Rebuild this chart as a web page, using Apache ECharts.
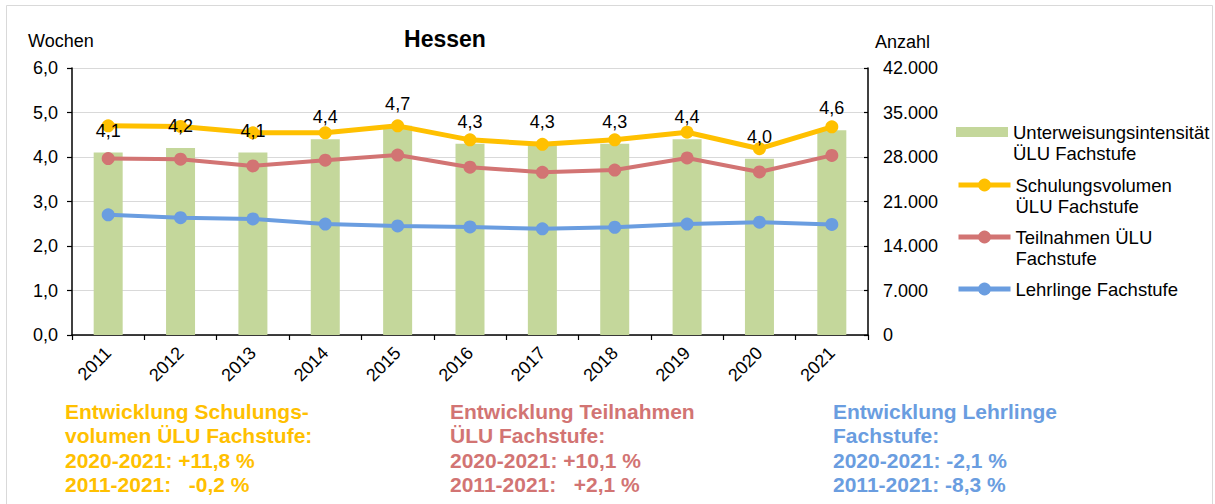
<!DOCTYPE html>
<html>
<head>
<meta charset="utf-8">
<script src="https://cdn.jsdelivr.net/npm/echarts@6/dist/echarts.min.js"></script>
<style>
  html, body { margin: 0; padding: 0; background: #fff; }
  #chart { width: 1215px; height: 504px; }
</style>
</head>
<body>
<div id="chart"></div>
<script>
// Jahre
const years = ['2011', '2012', '2013', '2014', '2015', '2016', '2017', '2018', '2019', '2020', '2021'];
// Unterweisungsintensität ÜLU Fachstufe (Wochen)
const intensitaet = [4.1, 4.2, 4.1, 4.4, 4.7, 4.3, 4.3, 4.3, 4.4, 3.96, 4.6];
// Schulungsvolumen ÜLU Fachstufe (Anzahl)
const schulungsvolumen = [32900, 32800, 31800, 31800, 32900, 30700, 30000, 30700, 31900, 29300, 32750];
// Teilnahmen ÜLU Fachstufe
const teilnahmen = [27750, 27650, 26600, 27500, 28300, 26400, 25600, 25950, 27850, 25650, 28250];
// Lehrlinge Fachstufe
const lehrlinge = [18900, 18450, 18250, 17450, 17150, 17000, 16700, 16950, 17450, 17750, 17400];

const names = ['Unterweisungsintensität\nÜLU Fachstufe', 'Schulungsvolumen\nÜLU Fachstufe', 'Teilnahmen ÜLU\nFachstufe', 'Lehrlinge Fachstufe'];
const colors = ['#c4d79b', '#ffc000', '#d27473', '#6a9de0'];

const fmtDe1 = v => v.toFixed(1).replace('.', ',');
const fmtThousand = v => String(v).replace(/\B(?=(\d{3})+(?!\d))/g, '.');
const FONT = 'Liberation Sans, Arial, sans-serif';

const mychart = echarts.init(document.getElementById('chart'), null, { renderer: 'svg' });

const legendBase = {
    orient: 'vertical',
    left: 956,
    padding: 0,
    itemWidth: 52,
    itemHeight: 16,
    textStyle: { fontFamily: FONT, fontSize: 18.5, lineHeight: 21, color: '#000' }
};
// erste Zeile auf Höhe des Symbols: leere Zeile davor
const twoLineFmt = name => '\n' + name;

const lineSeries = (name, data, color, width) => ({
    name: name,
    type: 'line',
    yAxisIndex: 1,
    data: data,
    symbol: 'circle',
    symbolSize: 13,
    showAllSymbol: true,
    itemStyle: { color: color },
    lineStyle: { color: color, width: width },
    z: 3
});

const option = {
    backgroundColor: '#fff',
    animation: false,
    grid: { left: 72, right: 347, top: 68, bottom: 169 },
    legend: [
        Object.assign({}, legendBase, { top: 100.5, itemHeight: 10, icon: 'rect', data: [names[0]], formatter: twoLineFmt }),
        Object.assign({}, legendBase, { top: 153.5, data: [names[1]], formatter: twoLineFmt, lineStyle: { width: 5 } }),
        Object.assign({}, legendBase, { top: 205.5, data: [names[2]], formatter: twoLineFmt, lineStyle: { width: 5 } }),
        Object.assign({}, legendBase, { top: 278.5, data: [names[3]], lineStyle: { width: 5 } })
    ],
    xAxis: {
        type: 'category',
        data: years,
        axisLine: { lineStyle: { color: '#000', width: 1.5 } },
        axisTick: { show: true, length: 5, lineStyle: { color: '#000', width: 1.2 } },
        axisLabel: { rotate: 45, margin: 15, fontFamily: FONT, fontSize: 18, color: '#000' }
    },
    yAxis: [
        {
            type: 'value',
            min: 0, max: 6, interval: 1,
            axisLine: { show: true, lineStyle: { color: '#000', width: 1.5 } },
            axisTick: { show: true, length: 5, lineStyle: { color: '#000', width: 1.2 } },
            splitLine: { show: true, lineStyle: { color: '#d9d9d9', width: 1 } },
            axisLabel: { margin: 14, fontFamily: FONT, fontSize: 18, color: '#000', formatter: fmtDe1 }
        },
        {
            type: 'value',
            position: 'right',
            min: 0, max: 42000, interval: 7000,
            axisLine: { show: true, lineStyle: { color: '#000', width: 1.5 } },
            axisTick: { show: true, inside: true, length: 4, lineStyle: { color: '#000', width: 1.2 } },
            splitLine: { show: false },
            axisLabel: { margin: 15, fontFamily: FONT, fontSize: 18, color: '#000', formatter: fmtThousand }
        }
    ],
    series: [
        {
            name: names[0],
            type: 'bar',
            data: intensitaet,
            barWidth: 29,
            itemStyle: { color: colors[0] },
            z: 2
        },
        lineSeries(names[1], schulungsvolumen, colors[1], 5),
        lineSeries(names[2], teilnahmen, colors[2], 4),
        lineSeries(names[3], lehrlinge, colors[3], 4),
        {
            // Datenbeschriftung der Säulen, über den Linien
            name: 'labels',
            type: 'bar',
            data: intensitaet,
            barWidth: 29,
            barGap: '-100%',
            silent: true,
            itemStyle: { color: 'rgba(0,0,0,0)' },
            z: 10,
            label: {
                show: true,
                position: 'top',
                distance: 13,
                fontFamily: FONT,
                fontSize: 18,
                color: '#000',
                formatter: p => fmtDe1(p.value)
            }
        }
    ],
    graphic: [
        { type: 'rect', silent: true, shape: { x: 6.5, y: 5.5, width: 1206, height: 520 }, style: { fill: 'none', stroke: '#d9d9d9', lineWidth: 1 } },
        { type: 'text', x: 445, y: 39, style: { text: 'Hessen', fontFamily: FONT, fontSize: 23, fontWeight: 'bold', fill: '#000', align: 'center', verticalAlign: 'middle' } },
        { type: 'text', x: 28, y: 41, style: { text: 'Wochen', fontFamily: FONT, fontSize: 18, fill: '#000', align: 'left', verticalAlign: 'middle' } },
        { type: 'text', x: 875, y: 42, style: { text: 'Anzahl', fontFamily: FONT, fontSize: 18, fill: '#000', align: 'left', verticalAlign: 'middle' } },
        { type: 'text', x: 65, y: 399, style: { text: 'Entwicklung Schulungs-\nvolumen ÜLU Fachstufe:\n2020-2021: +11,8 %\n2011-2021:\u00a0\u00a0\u00a0-0,2 %', fontFamily: FONT, fontSize: 21, lineHeight: 24.5, fontWeight: 'bold', fill: '#ffc000', align: 'left', verticalAlign: 'top' } },
        { type: 'text', x: 450, y: 399, style: { text: 'Entwicklung Teilnahmen\nÜLU Fachstufe:\n2020-2021: +10,1 %\n2011-2021:\u00a0\u00a0\u00a0+2,1 %', fontFamily: FONT, fontSize: 21, lineHeight: 24.5, fontWeight: 'bold', fill: '#d27473', align: 'left', verticalAlign: 'top' } },
        { type: 'text', x: 833, y: 399, style: { text: 'Entwicklung Lehrlinge\nFachstufe:\n2020-2021: -2,1 %\n2011-2021: -8,3 %', fontFamily: FONT, fontSize: 21, lineHeight: 24.5, fontWeight: 'bold', fill: '#6a9de0', align: 'left', verticalAlign: 'top' } }
    ]
};

mychart.setOption(option);
window.addEventListener('resize', () => {
    mychart.resize();
});
</script>
</body>
</html>
